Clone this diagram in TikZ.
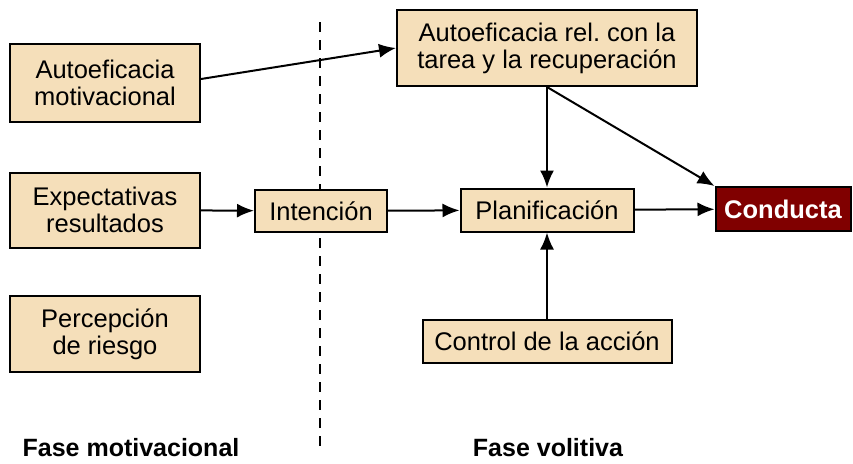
\documentclass[tikz,border=0pt]{standalone}
\usepackage{fontspec}
\setmainfont{Liberation Sans}
\usetikzlibrary{arrows.meta}
\definecolor{caja}{HTML}{F5DFBA}
\definecolor{rojo}{HTML}{800000}
\tikzset{
  caja/.style={draw=black, line width=2pt, fill=caja, align=center,
    font=\fontsize{25.5}{27}\selectfont, inner sep=0pt},
  flecha/.style={-{Latex[length=17pt,width=14pt]}, line width=2pt},
  fase/.style={font=\fontsize{25}{28}\selectfont\bfseries}
}
\frenchspacing
\begin{document}
\begin{tikzpicture}[x=1pt,y=-1pt]
        \useasboundingbox (0,0) rectangle (853,463);
        \coordinate (DA) at (320, 22);
        \coordinate (DB) at (320, 447);
        \draw [line width=1.8pt, dash pattern=on 10pt off 8pt] (DA) -- (DB);
        \node[caja, minimum width=190pt, minimum height=78pt] (AM) at (105, 83) {Autoeficacia\\motivacional};
        \node[caja, minimum width=190pt, minimum height=75pt] (ER) at (105, 210) {Expectativas\\resultados};
        \node[caja, minimum width=190pt, minimum height=76pt] (PR) at (105, 334) {Percepción\\de riesgo};
        \node[caja, minimum width=132pt, minimum height=42pt] (IN) at (321, 211) {Intención};
        \node[caja, minimum width=300pt, minimum height=76pt] (AR) at (547, 48) {Autoeficacia rel. con la\\tarea y la recuperación};
        \node[caja, minimum width=173pt, minimum height=43pt] (PL) at (547, 210) {Planificación};
        \node[caja, minimum width=249pt, minimum height=43pt] (CA) at (547, 341) {Control de la acción};
        \node[caja, fill=rojo, text=white, font=\fontsize{25.5}{27}\selectfont\bfseries,
              minimum width=135pt, minimum height=44pt] (CO) at (783, 209) {Conducta};
        \node[fase] (FM) at (131, 448) {Fase motivacional};
        \node[fase] (FV) at (548, 448) {Fase volitiva};
        \draw [flecha] (AM.east) ++(0,-4) -- (AR.west);
        \draw [flecha] (ER) -- (IN);
        \draw [flecha] (IN) -- (PL);
        \draw [flecha] (PL) -- (CO);
        \draw [flecha] (AR) -- (PL);
        \draw [flecha] (CA) -- (PL);
        \draw [flecha] (AR.south) -- (CO.north west);
\end{tikzpicture}
\end{document}
